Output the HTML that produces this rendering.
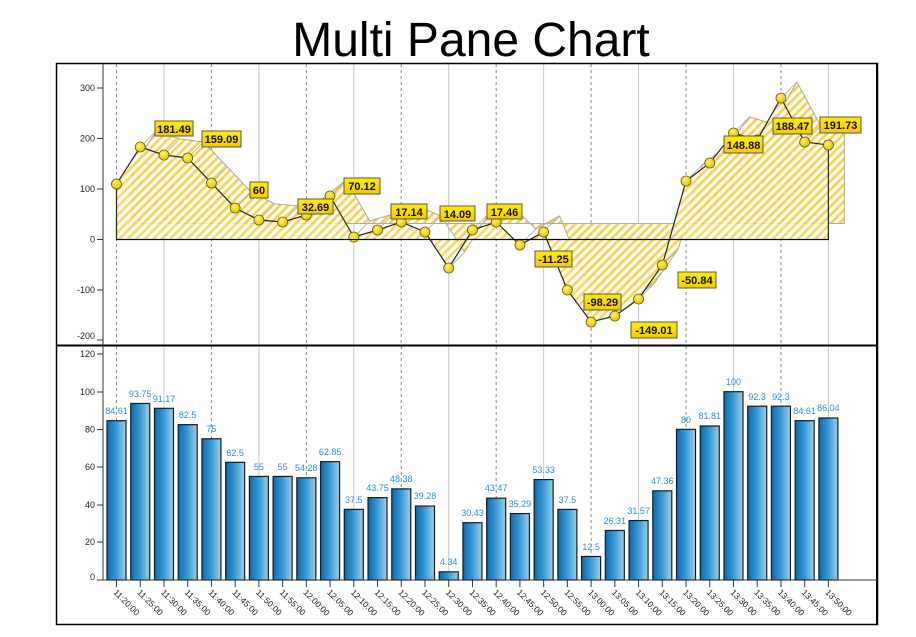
<!DOCTYPE html>
<html><head><meta charset="utf-8"><style>
html,body{margin:0;padding:0;background:#fff;}
svg{display:block;font-family:"Liberation Sans",sans-serif;}
.yl{font-size:9px;fill:#222;text-anchor:end;}
.bl{font-size:9px;fill:#2a8fd0;text-anchor:middle;}
.xl{font-size:8.5px;fill:#222;}
.lb{font-size:11px;font-weight:bold;fill:#111;}
</style></head><body>
<svg id="s" width="916" height="637" viewBox="0 0 916 637" xmlns="http://www.w3.org/2000/svg">
<defs>
<pattern id="h" width="6" height="6" patternUnits="userSpaceOnUse" patternTransform="rotate(45)">
<rect width="6" height="6" fill="#fff"/><rect width="2.6" height="6" fill="#ffd040"/>
</pattern>
<linearGradient id="bg" x1="0" x2="1" y1="0" y2="0">
<stop offset="0" stop-color="#0a6aae"/><stop offset="0.5" stop-color="#3a9ad6"/><stop offset="1" stop-color="#9ccfea"/>
</linearGradient>
<linearGradient id="lg" x1="0" x2="0" y1="0" y2="1">
<stop offset="0" stop-color="#ffee00"/><stop offset="1" stop-color="#f7c800"/>
</linearGradient>
<radialGradient id="mk" cx="0.4" cy="0.35" r="0.7"><stop offset="0" stop-color="#fff26a"/><stop offset="1" stop-color="#e8c000"/></radialGradient>
</defs>
<text x="471" y="56" font-size="48" text-anchor="middle" fill="#000">Multi Pane Chart</text>
<g id="grid"></g>
<g id="area"></g>
<g id="bars"></g>
<g id="axes"></g>
<text class="yl" x="95" y="91">300</text>
<text class="yl" x="95" y="141.5">200</text>
<text class="yl" x="95" y="192">100</text>
<text class="yl" x="95" y="242.5">0</text>
<text class="yl" x="95" y="293">-100</text>
<text class="yl" x="95" y="339">-200</text>
<text class="yl" x="95" y="357">120</text>
<text class="yl" x="95" y="395">100</text>
<text class="yl" x="95" y="432.5">80</text>
<text class="yl" x="95" y="470">60</text>
<text class="yl" x="95" y="508">40</text>
<text class="yl" x="95" y="545">20</text>
<text class="yl" x="95" y="580">0</text>
<g>
<text class="bl" x="116.5" y="414">84.61</text>
<text class="bl" x="140.2" y="397">93.75</text>
<text class="bl" x="164" y="402">91.17</text>
<text class="bl" x="187.7" y="418">82.5</text>
<text class="bl" x="211.4" y="432">75</text>
<text class="bl" x="235.2" y="456">62.5</text>
<text class="bl" x="258.9" y="470">55</text>
<text class="bl" x="282.6" y="470">55</text>
<text class="bl" x="306.3" y="471">54.28</text>
<text class="bl" x="330.1" y="455">62.85</text>
<text class="bl" x="353.8" y="503">37.5</text>
<text class="bl" x="377.5" y="491">43.75</text>
<text class="bl" x="401.3" y="482">48.38</text>
<text class="bl" x="425" y="499">39.28</text>
<text class="bl" x="448.7" y="565">4.34</text>
<text class="bl" x="472.5" y="516">30.43</text>
<text class="bl" x="496.2" y="491">43.47</text>
<text class="bl" x="519.9" y="507">35.29</text>
<text class="bl" x="543.6" y="473">53.33</text>
<text class="bl" x="567.4" y="503">37.5</text>
<text class="bl" x="591.1" y="550">12.5</text>
<text class="bl" x="614.8" y="524">26.31</text>
<text class="bl" x="638.6" y="514">31.57</text>
<text class="bl" x="662.3" y="484">47.36</text>
<text class="bl" x="686" y="423">80</text>
<text class="bl" x="709.8" y="419">81.81</text>
<text class="bl" x="733.5" y="385">100</text>
<text class="bl" x="757.2" y="400">92.3</text>
<text class="bl" x="780.9" y="400">92.3</text>
<text class="bl" x="804.7" y="414">84.61</text>
<text class="bl" x="828.4" y="411">86.04</text>
</g>
<g>
<text class="xl" transform="translate(113,593) rotate(45)">11:20:00</text>
<text class="xl" transform="translate(136.7,593) rotate(45)">11:25:00</text>
<text class="xl" transform="translate(160.5,593) rotate(45)">11:30:00</text>
<text class="xl" transform="translate(184.2,593) rotate(45)">11:35:00</text>
<text class="xl" transform="translate(207.9,593) rotate(45)">11:40:00</text>
<text class="xl" transform="translate(231.7,593) rotate(45)">11:45:00</text>
<text class="xl" transform="translate(255.4,593) rotate(45)">11:50:00</text>
<text class="xl" transform="translate(279.1,593) rotate(45)">11:55:00</text>
<text class="xl" transform="translate(302.8,593) rotate(45)">12:00:00</text>
<text class="xl" transform="translate(326.6,593) rotate(45)">12:05:00</text>
<text class="xl" transform="translate(350.3,593) rotate(45)">12:10:00</text>
<text class="xl" transform="translate(374,593) rotate(45)">12:15:00</text>
<text class="xl" transform="translate(397.8,593) rotate(45)">12:20:00</text>
<text class="xl" transform="translate(421.5,593) rotate(45)">12:25:00</text>
<text class="xl" transform="translate(445.2,593) rotate(45)">12:30:00</text>
<text class="xl" transform="translate(469,593) rotate(45)">12:35:00</text>
<text class="xl" transform="translate(492.7,593) rotate(45)">12:40:00</text>
<text class="xl" transform="translate(516.4,593) rotate(45)">12:45:00</text>
<text class="xl" transform="translate(540.1,593) rotate(45)">12:50:00</text>
<text class="xl" transform="translate(563.9,593) rotate(45)">12:55:00</text>
<text class="xl" transform="translate(587.6,593) rotate(45)">13:00:00</text>
<text class="xl" transform="translate(611.3,593) rotate(45)">13:05:00</text>
<text class="xl" transform="translate(635.1,593) rotate(45)">13:10:00</text>
<text class="xl" transform="translate(658.8,593) rotate(45)">13:15:00</text>
<text class="xl" transform="translate(682.5,593) rotate(45)">13:20:00</text>
<text class="xl" transform="translate(706.3,593) rotate(45)">13:25:00</text>
<text class="xl" transform="translate(730,593) rotate(45)">13:30:00</text>
<text class="xl" transform="translate(753.7,593) rotate(45)">13:35:00</text>
<text class="xl" transform="translate(777.4,593) rotate(45)">13:40:00</text>
<text class="xl" transform="translate(801.2,593) rotate(45)">13:45:00</text>
<text class="xl" transform="translate(824.9,593) rotate(45)">13:50:00</text>
</g>
<g stroke="#555" stroke-width="1" fill="url(#lg)">
<rect x="155" y="121" width="38" height="15"/><rect x="202" y="131" width="39" height="16"/>
<rect x="250" y="182" width="18" height="16"/><rect x="298" y="199" width="35" height="15"/>
<rect x="344" y="178" width="36" height="16"/><rect x="391" y="204" width="36" height="15"/>
<rect x="440" y="206" width="35" height="15"/><rect x="487" y="204" width="35" height="15"/>
<rect x="535" y="251" width="37" height="16"/><rect x="584" y="294" width="37" height="16"/>
<rect x="631" y="322" width="46" height="16"/><rect x="678" y="272" width="38" height="16"/>
<rect x="724" y="136" width="39" height="17"/><rect x="773" y="118" width="39" height="16"/>
<rect x="820" y="117" width="41" height="16"/>
</g>
<g class="lb" text-anchor="middle">
<text x="174" y="133">181.49</text><text x="221.5" y="143">159.09</text>
<text x="259" y="194">60</text><text x="315.5" y="211">32.69</text>
<text x="362" y="190">70.12</text><text x="409" y="216">17.14</text>
<text x="457.5" y="218">14.09</text><text x="504.5" y="216">17.46</text>
<text x="553.5" y="263">-11.25</text><text x="602.5" y="306">-98.29</text>
<text x="654" y="334">-149.01</text><text x="697" y="284">-50.84</text>
<text x="743.5" y="149">148.88</text><text x="792.5" y="130">188.47</text>
<text x="840.5" y="129">191.73</text>
</g>
<script>
(function(){
var NS="http://www.w3.org/2000/svg";
function el(p,t,a){var e=document.createElementNS(NS,t);for(var k in a)e.setAttribute(k,a[k]);p.appendChild(e);return e;}
var X=[];for(var i=0;i<31;i++)X.push(116.5+23.73*i);
var grid=document.getElementById('grid');
for(var i=0;i<31;i+=2){
 var dashed=(i/2)%2==0;
 el(grid,'line',{x1:X[i],x2:X[i],y1:64,y2:580,stroke:dashed?'#888':'#c8c8c8','stroke-width':1,'stroke-dasharray':dashed?'3,3':'none'});
}
var PY=[184,147,155,158,183,208,220,222,215,196,237,230,222,232,268,230,222,245,232,290,322,316,299,265,181,163,133,140,98,142,145];
var area=document.getElementById('area');
var dx=16,dy=-16,base=239.5;
function poly(ox,oy){var s=(X[0]+ox)+','+(base+oy);for(var i=0;i<31;i++)s+=' '+(X[i]+ox)+','+(PY[i]+oy);s+=' '+(X[30]+ox)+','+(base+oy);return s;}
el(area,'polygon',{points:poly(dx,dy),fill:'url(#h)',stroke:'#aaa','stroke-width':1});
for(var i=0;i<30;i++){
 el(area,'line',{x1:X[i],y1:PY[i],x2:X[i]+dx,y2:PY[i]+dy,stroke:'#aaa','stroke-width':0.8});
}
el(area,'polygon',{points:poly(0,0),fill:'url(#h)','fill-opacity':0.85,stroke:'none'});
var pl=X[0]+','+base;for(var i=0;i<31;i++)pl+=' '+X[i]+','+PY[i];pl+=' '+X[30]+','+base+' '+X[0]+','+base;
el(area,'polyline',{points:pl,fill:'none',stroke:'#222','stroke-width':1.2});
for(var i=0;i<31;i++)el(area,'circle',{cx:X[i],cy:PY[i],r:5,fill:'url(#mk)',stroke:'#6a5a00','stroke-width':0.8});
var V=[84.61,93.75,91.17,82.5,75,62.5,55,55,54.28,62.85,37.5,43.75,48.38,39.28,4.34,30.43,43.47,35.29,53.33,37.5,12.5,26.31,31.57,47.36,80,81.81,100,92.3,92.3,84.61,86.04];
var bars=document.getElementById('bars');
for(var i=0;i<31;i++){var y=580-V[i]*1.883;
 el(bars,'rect',{x:X[i]-9.5,y:y,width:19,height:580-y,fill:'url(#bg)',stroke:'#1a1a1a','stroke-width':1.2});}
var ax=document.getElementById('axes');
el(ax,'rect',{x:56.5,y:63.5,width:821,height:561,fill:'none',stroke:'#000','stroke-width':1.5});
el(ax,'line',{x1:877,x2:877,y1:63,y2:625,stroke:'#000','stroke-width':2});
el(ax,'line',{x1:56,x2:878,y1:345.5,y2:345.5,stroke:'#000','stroke-width':2});
el(ax,'line',{x1:103,x2:103,y1:64,y2:580,stroke:'#333','stroke-width':1});
el(ax,'line',{x1:103,x2:877,y1:580,y2:580,stroke:'#333','stroke-width':1});
el(ax,'line',{x1:116,x2:829,y1:239.5,y2:239.5,stroke:'#000','stroke-width':1});
[88,138.5,189,239.5,290,340,354,392,429.5,467,505,542,580].forEach(function(y){el(ax,'line',{x1:97,x2:103,y1:y,y2:y,stroke:'#333','stroke-width':1});});
for(var i=0;i<31;i++)el(ax,'line',{x1:X[i],x2:X[i],y1:580,y2:587,stroke:'#333','stroke-width':1});
})();
</script>
</svg>
</body></html>
